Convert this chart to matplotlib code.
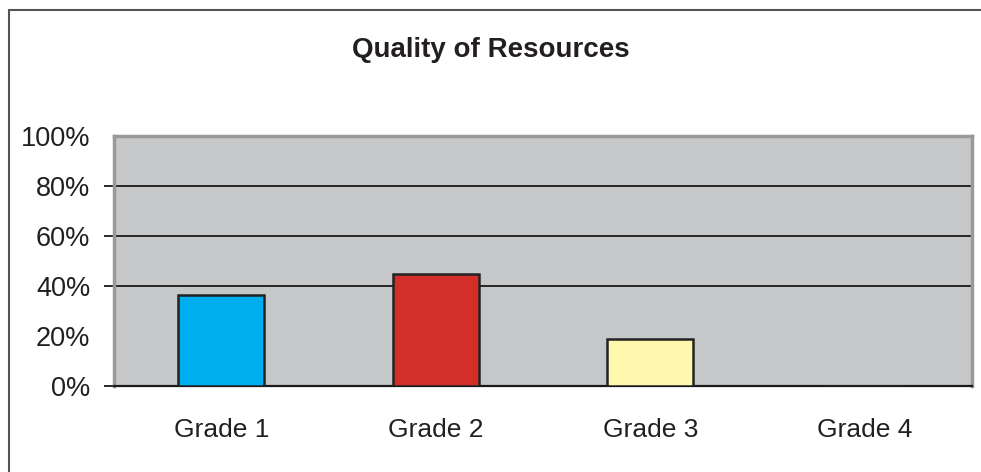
import numpy as np
import matplotlib
matplotlib.use('Agg')
import matplotlib.pyplot as plt
from matplotlib.ticker import FuncFormatter
from matplotlib.patches import Rectangle

plt.rcParams['font.family'] = ['Liberation Sans Narrow', 'Liberation Sans', 'DejaVu Sans']

# data
grades = ['Grade 1', 'Grade 2', 'Grade 3', 'Grade 4']
values = [36.4, 44.7, 18.8, 0.0]
colors = ['#00AEEF', '#D42E2B', '#FFF7AE', '#C6C7C9']
yticks = [0, 20, 40, 60, 80, 100]

fig = plt.figure(figsize=(9.81, 4.72), dpi=100)
ax = fig.add_axes([0.1162, 0.1822, 0.8746, 0.5297])

# outer frame (top and left visible, rest runs off the image)
fig.patches.append(Rectangle((9 / 981, -0.1), 1.2, (462 / 472) + 0.1,
                             transform=fig.transFigure, fill=False,
                             edgecolor='#555555', linewidth=1.5))

x = np.arange(len(grades))
ax.bar(x, values, width=0.4, color=colors, edgecolor='#222222', linewidth=1.8, zorder=3)

ax.set_facecolor('#C6C7C9')
ax.set_xlim(-0.5, len(grades) - 0.5)
ax.set_ylim(0, 100)
ax.set_yticks(yticks)
ax.yaxis.set_major_formatter(FuncFormatter(lambda v, p: f'{v:.0f}%'))
ax.set_xticks(x)
ax.set_xticklabels(grades)

ax.grid(axis='y', color='#1a1a1a', linewidth=1.3, zorder=1)
for v, gl, tk in zip(yticks, ax.yaxis.get_gridlines(), ax.yaxis.get_major_ticks()):
    if v in (20, 100):
        gl.set_visible(False)
        tk.tick1line.set_visible(False)
    if v == 0:
        gl.set_visible(False)

ax.tick_params(axis='y', length=7, width=1.3, color='#1a1a1a', labelsize=19.5, pad=10, labelcolor='#231f20')
ax.tick_params(axis='x', length=0, labelsize=19, pad=23, labelcolor='#231f20')

for s in ['top', 'left', 'right']:
    ax.spines[s].set_color('#999999')
    ax.spines[s].set_linewidth(2.5)
ax.spines['bottom'].set_color('#1a1a1a')
ax.spines['bottom'].set_linewidth(1.6)

fig.text(0.5, 0.894, 'Quality of Resources', ha='center', va='center',
         fontsize=20, fontweight='bold', color='#231f20')

fig.savefig('out.png', dpi=100, facecolor='white')
